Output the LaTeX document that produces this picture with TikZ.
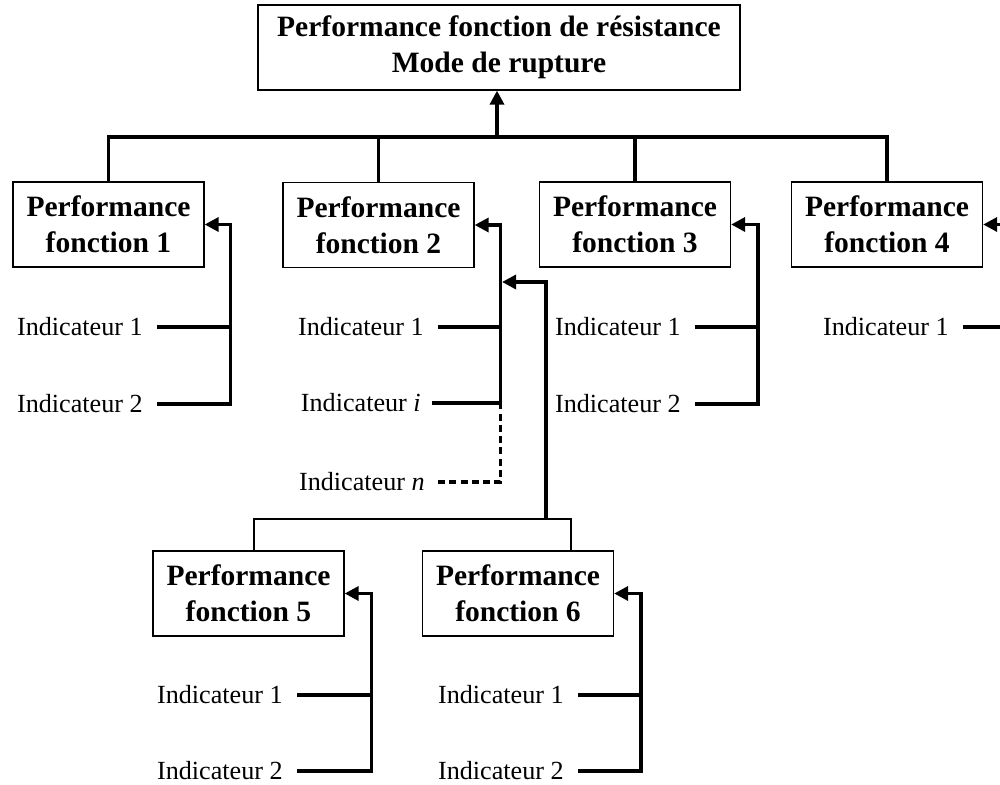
\documentclass[tikz,border=0pt]{standalone}
\usepackage{fontspec}
\setmainfont{Liberation Serif}
\usetikzlibrary{arrows.meta}
\begin{document}
\begin{tikzpicture}[x=0.025cm,y=-0.025cm,
  pbox/.style={draw=black, line width=0.9pt, minimum width=4.775cm, minimum height=2.125cm,
    inner sep=0pt, align=center, font=\fontsize{21}{25.5}\selectfont\bfseries},
  ind/.style={inner xsep=0pt, inner ysep=0pt, anchor=east, font=\fontsize{18.6}{22}\selectfont},
  fb/.style={line width=2.4pt},
  arr/.style={line width=2.4pt, -{Triangle[length=10pt,width=10pt]}},
  thinl/.style={line width=0.9pt},
  dsh/.style={line width=2.4pt, dash pattern=on 5pt off 3pt}]
\useasboundingbox (0,0) rectangle (1000,784);
\clip (0,0) rectangle (1000,784);

% boxes
\node[pbox, minimum width=12.05cm] (top) at (499,47.5) {Performance fonction de résistance\\Mode de rupture};
\node[pbox] (p1) at (108.5,224.5) {Performance\\fonction 1};
\node[pbox] (p2) at (378.5,225) {Performance\\fonction 2};
\node[pbox] (p3) at (635,224.5) {Performance\\fonction 3};
\node[pbox] (p4) at (887,224.5) {Performance\\fonction 4};
\node[pbox] (p5) at (248.5,593.5) {Performance\\fonction 5};
\node[pbox] (p6) at (518,593.5) {Performance\\fonction 6};

% indicator labels
\node[ind] (i11) at (143,327) {Indicateur 1};
\node[ind] (i12) at (143,404) {Indicateur 2};
\node[ind] (i21) at (424,327) {Indicateur 1};
\node[ind] (i2i) at (421,403) {Indicateur \textit{i}};
\node[ind] (i2n) at (425,482) {Indicateur \textit{n}};
\node[ind] (i31) at (681,327) {Indicateur 1};
\node[ind] (i32) at (681,404) {Indicateur 2};
\node[ind] (i41) at (949,327) {Indicateur 1};
\node[ind] (i51) at (283,695) {Indicateur 1};
\node[ind] (i52) at (283,771) {Indicateur 2};
\node[ind] (i61) at (564,695) {Indicateur 1};
\node[ind] (i62) at (564,771) {Indicateur 2};

% coordinates
\coordinate (bus) at (497,137);
\coordinate (v1) at ([xshift=0.65cm]p1.east);
\coordinate (v2) at ([xshift=0.65cm]p2.east);
\coordinate (v3) at ([xshift=0.67cm]p3.east);
\coordinate (v4) at ([xshift=0.67cm]p4.east);
\coordinate (v5) at ([xshift=0.67cm]p5.east);
\coordinate (v6) at ([xshift=0.67cm]p6.east);
\coordinate (k) at (546,282);
\coordinate (b56) at (546,519);
\coordinate (s5) at (254,519);
\coordinate (s6) at (571,519);

% top bus
\draw[fb] (p1.north) |- (bus) -| (p4.north);
\draw[fb] (p2.north) -- (p2.north |- bus);
\draw[fb] (p3.north) -- (p3.north |- bus);
\draw[arr] (bus) -- (bus |- top.south);

% box 1
\draw[arr] ([xshift=0.35cm]i12.east) -| (v1) -- (p1.east);
\draw[fb] ([xshift=0.35cm]i11.east) -- (v1 |- i11.east);

% box 2
\draw[arr] ([xshift=0.28cm]i2i.east) -| (v2) -- (p2.east);
\draw[fb] ([xshift=0.35cm]i21.east) -- (v2 |- i21.east);
\draw[dsh] ([xshift=0.33cm]i2n.east) -| (v2 |- i2i.east);
\draw[arr, shorten >=1pt] (b56) |- (v2 |- k);
\draw[thinl] (s5 |- p5.north) -- (s5) -- (s6) -- (s6 |- p6.north);

% box 3
\draw[arr] ([xshift=0.35cm]i32.east) -| (v3) -- (p3.east);
\draw[fb] ([xshift=0.35cm]i31.east) -- (v3 |- i31.east);

% box 4
\draw[arr] ([xshift=0.35cm]i41.east) -| (v4) -- (p4.east);

% box 5
\draw[arr] ([xshift=0.35cm]i52.east) -| (v5) -- (p5.east);
\draw[fb] ([xshift=0.35cm]i51.east) -- (v5 |- i51.east);

% box 6
\draw[arr] ([xshift=0.35cm]i62.east) -| (v6) -- (p6.east);
\draw[fb] ([xshift=0.35cm]i61.east) -- (v6 |- i61.east);
\end{tikzpicture}
\end{document}
